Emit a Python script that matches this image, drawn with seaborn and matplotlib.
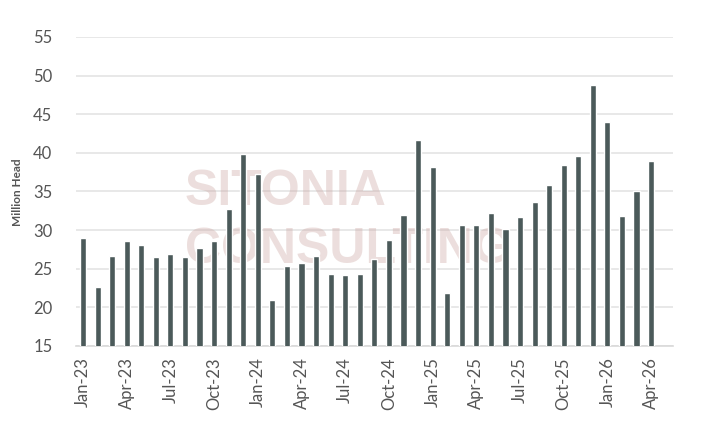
import matplotlib
matplotlib.use("Agg")
import matplotlib.pyplot as plt
import numpy as np
import pandas as pd
import seaborn as sns

# monthly values, Jan-23 .. Apr-26 (million head)
months = pd.date_range("2023-01-01", "2026-04-01", freq="MS").strftime("%b-%y").tolist()
values = [
    29.0, 22.6, 26.7, 28.6, 28.1, 26.5, 26.9, 26.5, 27.7, 28.6, 32.7, 39.8,
    37.2, 21.0, 25.4, 25.7, 26.6, 24.3, 24.2, 24.3, 26.3, 28.7, 31.9, 41.6,
    38.2, 21.8, 30.6, 30.7, 32.2, 30.1, 31.7, 33.6, 35.8, 38.4, 39.6, 48.8,
    44.0, 31.8, 35.1, 39.0,
]
yticks = [15, 20, 25, 30, 35, 40, 45, 50, 55]

df = pd.DataFrame({"month": months, "value": values})

sns.set_theme(style="white")
plt.rcParams["font.family"] = ["Lato", "DejaVu Sans"]

fig = plt.figure(figsize=(7.17, 4.28), dpi=100)
ax = fig.add_axes([0.106, 0.1916, 0.833, 0.722])

sns.barplot(data=df, x="month", y="value", color="#4b5a5a", saturation=1,
            width=0.42, ax=ax, zorder=3)

ax.set_ylim(15, 55)
ax.set_xlim(-0.48, len(months) + 0.52)
ax.set_yticks(yticks)
ax.yaxis.grid(True, color="#e6e6e6", linewidth=1.3, zorder=1)
ax.xaxis.grid(False)
ax.set_axisbelow(True)

ax.set_xticks(range(0, len(months), 3))
ax.set_xticklabels(months[::3], rotation=90)
ax.tick_params(axis="both", length=0, labelsize=12, labelcolor="#555555")
ax.tick_params(axis="y", pad=17)
ax.tick_params(axis="x", pad=8)

for s in ["top", "right", "left"]:
    ax.spines[s].set_visible(False)
ax.spines["bottom"].set_color("#d9d9d9")
ax.spines["bottom"].set_linewidth(1.2)

ax.set_xlabel("")
ax.set_ylabel("")
fig.text(0.025, 0.551, "Million Head", rotation=90, ha="center", va="center",
         fontsize=8.5, fontweight="bold", color="#555555")

# watermark, behind the bars
wm = dict(ha="left", va="baseline", fontsize=36, fontweight="bold",
          color="#c9a39e", alpha=0.35, family=["Liberation Sans", "DejaVu Sans"],
          zorder=2, transform=fig.transFigure)
ax.text(0.258, 0.521, "SITONIA", **wm)
ax.text(0.258, 0.3855, "CONSULTING", **wm)

fig.savefig("out.png", dpi=100)
